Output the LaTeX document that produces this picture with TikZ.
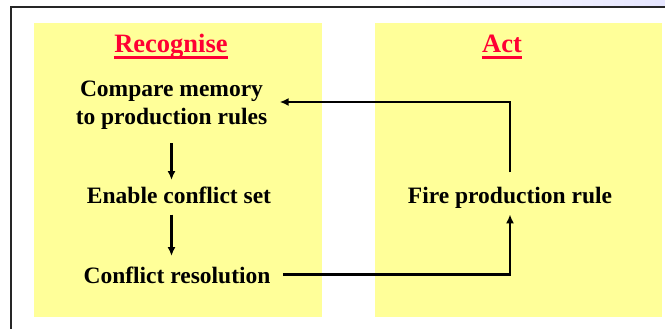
\documentclass[tikz,border=0pt]{standalone}
\usepackage{fontspec}
\setmainfont{Liberation Serif}
\usetikzlibrary{arrows.meta}
\definecolor{paleyellow}{RGB}{255,255,153}
\definecolor{headred}{RGB}{255,0,51}

\begin{document}
\begin{tikzpicture}[x=1pt,y=-1pt,thick,>={Latex[length=9pt,width=8pt]},
      panel/.style={fill=paleyellow},
      head/.style={text=headred,font=\fontsize{26.5}{30}\selectfont\bfseries,inner sep=0pt,anchor=base},
      stage/.style={font=\fontsize{23.5}{27.5}\selectfont\bfseries,align=center,inner xsep=12pt,inner ysep=0pt},
      flow/.style={->,line width=2.9pt}]
      \useasboundingbox (0,0) rectangle (665,329);
      \shade[left color=white,right color=blue!10!white] (400,0) rectangle (665,6);
      \draw[line width=1.4pt,black!85] (11,329) -- (11,7) -- (665,7);
      \fill[panel] (34,23) rectangle (322,317);
      \fill[panel] (375,23) rectangle (662,317);
      \node (recog) [head] at (171,53) {Recognise};
      \node (act) [head] at (502,53) {Act};
      \draw[headred,line width=2.4pt] ([yshift=-4.5pt]recog.base west) -- ([yshift=-4.5pt]recog.base east);
      \draw[headred,line width=2.4pt] ([yshift=-4.5pt]act.base west) -- ([yshift=-4.5pt]act.base east);
      \node (compare) [stage] at (171.5,105) {Compare memory\\to production rules};
      \node (enable) [stage,anchor=base] at (179,203) {Enable conflict set};
      \node (conflict) [stage,anchor=base] at (177,283) {Conflict resolution};
      \node (fire) [stage,anchor=base] at (510,203) {Fire production rule};
      \draw[flow,shorten <=14pt,shorten >=6pt] (compare.south) -- (compare.south |- enable.north);
      \draw[flow,shorten <=11pt,shorten >=10pt] (compare.south |- enable.south) -- (compare.south |- conflict.north);
      \draw[flow,shorten >=6pt] (conflict.east) -| (fire.south);
      \draw[flow,shorten <=14pt] (fire.north) |- ([yshift=3pt]compare.east);
\end{tikzpicture}
\end{document}
